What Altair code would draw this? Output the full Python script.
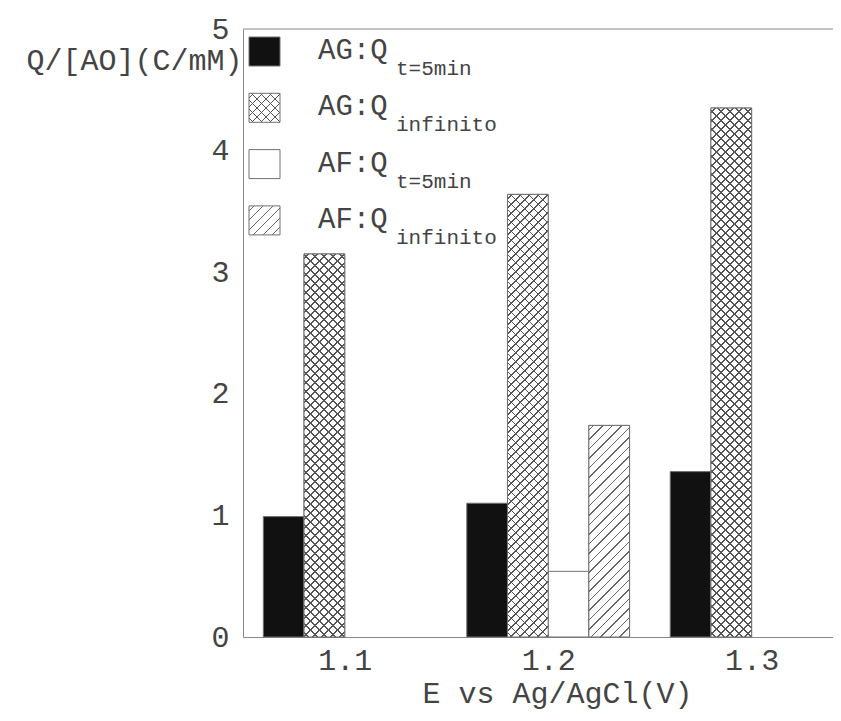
import altair as alt
import pandas as pd
import numpy as np

# ---------------- data ----------------
E = [1.1, 1.2, 1.3]
AG_T5 = [0.99, 1.10, 1.36]
AG_INF = [3.15, 3.64, 4.35]
AF_T5 = [None, 0.54, None]
AF_INF = [None, 1.74, None]

SERIES = ["AG_t5", "AG_inf", "AF_t5", "AF_inf"]
LEG_MAIN = ["AG:Q", "AG:Q", "AF:Q", "AF:Q"]
LEG_SUB = ["t=5min", "infinito", "t=5min", "infinito"]

X_TICKS = [1.1, 1.2, 1.3]
Y_TICKS = [0, 1, 2, 3, 4, 5]
X_TITLE = "E vs Ag/AgCl(V)"
Y_TITLE = "Q/[AO](C/mM)"

# ---------------- layout / style ----------------
W, H = 590, 608
X_DOM = [1.05, 1.34]
Y_DOM = [0, 5]
BAR_W = 0.02           # bar width in volts
GROUP_START = -0.04    # first bar's left edge relative to E
PX_PER_V = W / (X_DOM[1] - X_DOM[0])
PX_PER_Q = H / (Y_DOM[1] - Y_DOM[0])
FONT = "Liberation Mono"
TXT = "#444444"
LINE = "#888888"
BAR_STROKE = "#707070"
HATCH = "#555555"

rows = []
for vals, s in zip([AG_T5, AG_INF, AF_T5, AF_INF], SERIES):
    for e, v in zip(E, vals):
        if v is not None:
            rows.append({"E": e, "series": s, "idx": SERIES.index(s), "value": v})
df = pd.DataFrame(rows)

leg = pd.DataFrame({"main": LEG_MAIN, "sub": LEG_SUB, "i": list(range(len(LEG_MAIN)))})


def hatch_gradient(w, h, direction, fg, bg, period=9.0, lw=1.3):
    L = w + h
    k = L / (w * w + h * h)
    if direction == "/":
        x1, y1, x2, y2 = 0, 0, k * w, k * h
    else:
        x1, y1, x2, y2 = 0, 1, k * w, 1 - k * h
    stops = [(0.0, bg)]
    c = period / 2
    while c + lw / 2 < L:
        a = round((c - lw / 2) / L, 6)
        b = round((c + lw / 2) / L, 6)
        stops += [(a, bg), (a, fg), (b, fg), (b, bg)]
        c += period
    stops.append((1.0, bg))
    return alt.LinearGradient(
        gradient="linear",
        stops=[alt.GradientStop(offset=o, color=col) for o, col in stops],
        x1=x1, y1=y1, x2=x2, y2=y2,
    )


xs = alt.Scale(domain=X_DOM, nice=False, zero=False)
ys = alt.Scale(domain=Y_DOM, nice=False, zero=True)
x_axis = alt.Axis(values=X_TICKS, format=".1f", title=X_TITLE,
                  labelPadding=8, titlePadding=3, titleX=314, labelFlush=False)
y_axis = alt.Axis(values=Y_TICKS, format="d", title=Y_TITLE, titleAngle=0,
                  titleAlign="right", titleBaseline="middle",
                  titleX=-1, titleY=31, labelPadding=14)

bars_base = alt.Chart(df).transform_calculate(
    lo=f"datum.E + ({GROUP_START}) + {BAR_W} * datum.idx",
    hi=f"datum.E + ({GROUP_START}) + {BAR_W} * (datum.idx + 1)",
)
enc = dict(
    x=alt.X("lo:Q", scale=xs, axis=x_axis),
    x2="hi:Q",
    y=alt.Y("value:Q", scale=ys, axis=y_axis),
    y2=alt.datum(0),
)

base = bars_base.mark_bar(stroke=BAR_STROKE, strokeWidth=1).encode(
    fill=alt.Fill("series:N", scale=alt.Scale(domain=SERIES,
                                              range=["#111111", "#ffffff", "#ffffff", "#ffffff"]),
                  legend=None),
    **enc,
)

layers = [base]
bw_px = BAR_W * PX_PER_V
for r in df.itertuples():
    h_px = r.value * PX_PER_Q
    if r.series == "AG_inf":
        grads = [hatch_gradient(bw_px, h_px, "/", HATCH, "#ffffff"),
                 hatch_gradient(bw_px, h_px, "\\", HATCH, "rgba(255,255,255,0)")]
    elif r.series == "AF_inf":
        grads = [hatch_gradient(bw_px, h_px, "/", "#666666", "#ffffff", period=9.5, lw=1.1)]
    else:
        continue
    for gi, g in enumerate(grads):
        lay = bars_base.transform_filter(
            f"datum.series == '{r.series}' && datum.E == {r.E}"
        ).mark_bar(fill=g, stroke=BAR_STROKE if gi == len(grads) - 1 else None,
                   strokeWidth=1).encode(**enc)
        layers.append(lay)

# top frame line
top_rule = alt.Chart(pd.DataFrame({"a": [0]})).mark_rule(color=LINE, strokeWidth=1).encode(
    y=alt.datum(Y_DOM[1])
)
layers.append(top_rule)

# ---------------- legend (inside plot, top-left) ----------------
SW_X0, SW_X1 = 6, 37
SW_Y0, SW_SIZE, ROW = 8, 29, 56.3
MAIN_X, MAIN_Y = 75, 30
SUB_X, SUB_Y = 153, 46
sw_fills = ["#111111", None, "#ffffff", None]
for i in range(len(LEG_MAIN)):
    y0 = SW_Y0 + ROW * i
    if i == 1:
        fills = [hatch_gradient(SW_X1 - SW_X0, SW_SIZE, "/", HATCH, "#ffffff"),
                 hatch_gradient(SW_X1 - SW_X0, SW_SIZE, "\\", HATCH, "rgba(255,255,255,0)")]
    elif i == 3:
        fills = [hatch_gradient(SW_X1 - SW_X0, SW_SIZE, "/", "#666666", "#ffffff", period=9.5, lw=1.1)]
    else:
        fills = [sw_fills[i]]
    item = alt.Chart(leg).transform_filter(f"datum.i == {i}")
    for fi, f in enumerate(fills):
        sw = item.mark_rect(
            fill=f, stroke=BAR_STROKE if fi == len(fills) - 1 else None, strokeWidth=1
        ).encode(
            x=alt.value(SW_X0), x2=alt.value(SW_X1),
            y=alt.value(y0), y2=alt.value(y0 + SW_SIZE),
        )
        layers.append(sw)
    layers.append(item.mark_text(font=FONT, fontSize=29, color=TXT, align="left",
                                 baseline="alphabetic").encode(
        x=alt.value(MAIN_X), y=alt.value(MAIN_Y + ROW * i), text="main:N"))
    layers.append(item.mark_text(font=FONT, fontSize=21, color=TXT, align="left",
                                 baseline="alphabetic").encode(
        x=alt.value(SUB_X), y=alt.value(SUB_Y + ROW * i), text="sub:N"))

chart = alt.layer(*layers).properties(
    width=W, height=H,
    padding={"left": 235, "top": 21, "right": 0, "bottom": 82},
    autosize=alt.AutoSizeParams(type="none"),
).configure_view(stroke=None).configure_axis(
    grid=False, ticks=False, domainColor=LINE, domainWidth=1,
    labelFont=FONT, labelFontSize=30, labelColor=TXT,
    titleFont=FONT, titleFontSize=30, titleColor=TXT, titleFontWeight="normal",
)

chart.save("out.html", embed_options={"renderer": "svg", "actions": False})
